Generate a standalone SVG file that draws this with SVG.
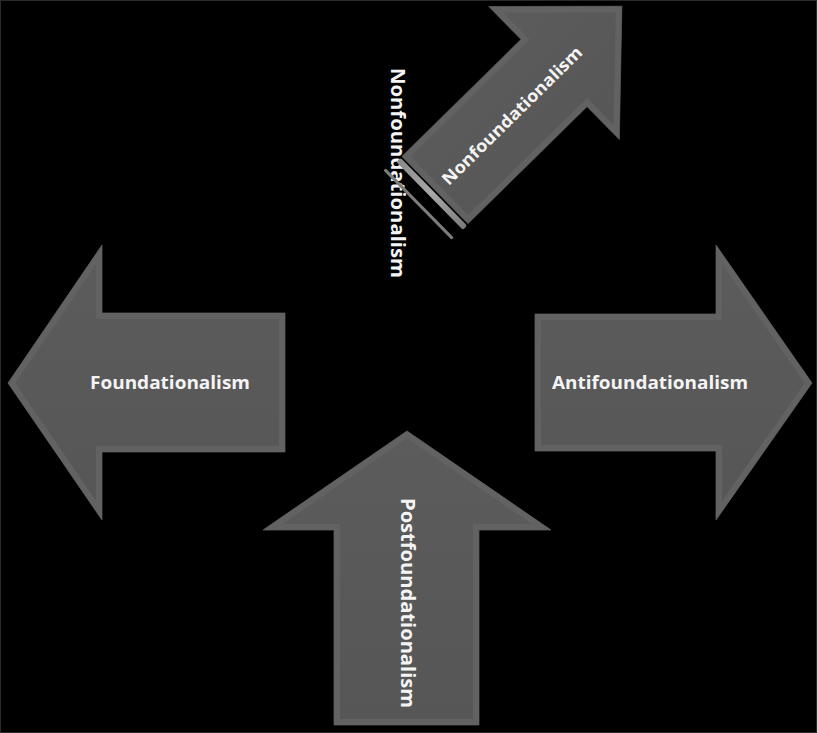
<svg xmlns="http://www.w3.org/2000/svg" xmlns:xlink="http://www.w3.org/1999/xlink" width="817" height="733" viewBox="0 0 817 733">
<style>
.body{fill:url(#gBody);stroke:#474747;stroke-width:1}
.bevel{fill:none;stroke:#626262;stroke-width:12}
.hl{stroke:url(#gHl);stroke-width:3;stroke-linecap:round}
.lbl{font-family:"Open Sans","Liberation Sans",sans-serif;font-weight:700;fill:#f4f4f4;text-anchor:middle}
</style>
<defs>
<linearGradient id="gBody" x1="0" y1="0" x2="0" y2="1">
<stop offset="0" stop-color="#5c5c5c"/>
<stop offset="1" stop-color="#565656"/>
</linearGradient>
<linearGradient id="gHl" x1="0" y1="0" x2="1" y2="0">
<stop offset="0" stop-color="#7e7e7e"/>
<stop offset="0.1" stop-color="#b0b0b0"/>
<stop offset="0.9" stop-color="#b0b0b0"/>
<stop offset="1" stop-color="#7e7e7e"/>
</linearGradient>
<linearGradient id="gHlv" x1="0" y1="0" x2="0" y2="1">
<stop offset="0" stop-color="#8a8a8a"/>
<stop offset="0.5" stop-color="#a8a8a8"/>
<stop offset="1" stop-color="#7a7a7a"/>
</linearGradient>
<path id="pL" d="M8,383 L102,245 L102,313 L285,313 L285,452 L102,452 L102,520 Z"/>
<path id="pR" d="M812,383 L716,245 L716,314 L535,314 L535,451 L716,451 L716,520 Z"/>
<path id="pU" d="M407,431 L551,530 L479,530 L479,725 L334,725 L334,530 L263,530 Z"/>
<path id="pD" d="M0,-47 L167,-47 L167,-93 L262,0 L167,93 L167,47 L0,47 Z"/>
<clipPath id="cL"><use xlink:href="#pL"/></clipPath>
<clipPath id="cR"><use xlink:href="#pR"/></clipPath>
<clipPath id="cU"><use xlink:href="#pU"/></clipPath>
<clipPath id="cD"><use xlink:href="#pD"/></clipPath>
</defs>
<rect x="0" y="0" width="817" height="733" fill="#000000"/>
<rect x="0.5" y="0.5" width="816" height="732" fill="none" stroke="#2a2a2a" stroke-width="1"/>

<g id="node-foundationalism">
<use xlink:href="#pL" class="body"/>
<use xlink:href="#pL" class="bevel" clip-path="url(#cL)"/>
<line class="hl" x1="96" y1="322" x2="277" y2="322"/>
<line class="hl" x1="100" y1="448" x2="282" y2="448"/>
<text class="lbl" x="170" y="389" font-size="18" textLength="160" lengthAdjust="spacingAndGlyphs">Foundationalism</text>
</g>

<g id="node-antifoundationalism">
<use xlink:href="#pR" class="body"/>
<use xlink:href="#pR" class="bevel" clip-path="url(#cR)"/>
<line class="hl" x1="538" y1="317" x2="720" y2="317"/>
<line class="hl" x1="545" y1="442" x2="724" y2="442"/>
<text class="lbl" x="650" y="389" font-size="18" textLength="196" lengthAdjust="spacingAndGlyphs">Antifoundationalism</text>
</g>

<g id="node-postfoundationalism">
<use xlink:href="#pU" class="body"/>
<use xlink:href="#pU" class="bevel" clip-path="url(#cU)"/>
<line class="hl" x1="285" y1="523" x2="343" y2="523"/>
<line class="hl" x1="470" y1="523" x2="537" y2="523"/>
<line class="hl" x1="342" y1="717" x2="472" y2="717"/>
<text class="lbl" transform="translate(401,603) rotate(90)" x="0" y="0" font-size="20" textLength="210" lengthAdjust="spacingAndGlyphs">Postfoundationalism</text>
</g>

<g id="node-nonfoundationalism-label">
<text class="lbl" transform="translate(391,173) rotate(90)" x="0" y="0" font-size="20" textLength="210" lengthAdjust="spacingAndGlyphs">Nonfoundationalism</text>
</g>

<g id="node-nonfoundationalism" transform="translate(435,190) rotate(-44.5)">
<use xlink:href="#pD" class="body"/>
<use xlink:href="#pD" class="bevel" clip-path="url(#cD)"/>
<rect x="-8" y="-47" width="6" height="95" rx="2" fill="url(#gHlv)"/>
<rect x="-23" y="-50" width="3" height="97" rx="1" fill="#7c7c7c"/>
<text class="lbl" x="107" y="7" font-size="17" textLength="189" lengthAdjust="spacingAndGlyphs">Nonfoundationalism</text>
</g>

<g id="connectors"></g>
</svg>
